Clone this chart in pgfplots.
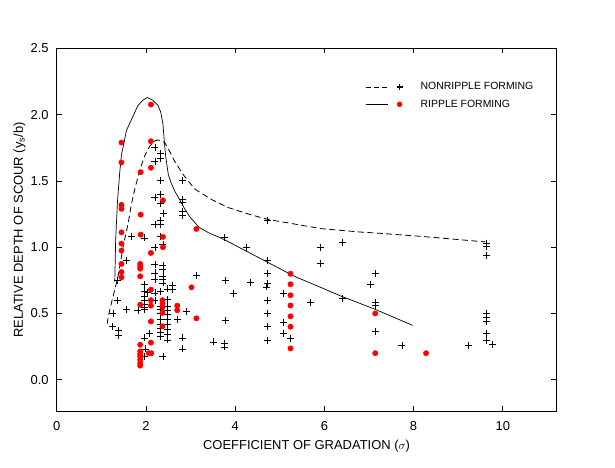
\documentclass[border=0pt]{standalone}
\usepackage{fontspec}
\setmainfont{Liberation Sans}
\usepackage{pgfplots}
\usepackage{pgfplotstable}
\pgfplotsset{compat=1.18}

% nonripple forming (black +)
\pgfplotstableread{
x y
9.63 1.03
9.63 1.007
9.63 0.94
9.63 0.50
9.63 0.47
9.63 0.44
9.63 0.35
9.63 0.295
9.76 0.264
9.22 0.257
7.74 0.257
7.14 0.80
7.03 0.72
7.14 0.584
7.14 0.56
7.14 0.362
6.41 1.037
6.41 0.61
5.91 1.00
5.91 0.878
5.69 0.58
5.08 0.652
5.08 0.433
5.08 0.352
5.24 0.31
4.73 1.20
4.73 0.90
4.73 0.80
4.73 0.725
4.71 0.70
4.73 0.60
4.73 0.50
4.73 0.40
4.73 0.297
4.35 0.733
4.25 1.00
3.75 1.075
3.78 0.748
3.97 0.652
3.78 0.448
3.52 0.285
3.75 0.277
3.75 0.247
3.13 0.785
2.20 1.75
2.33 1.705
2.33 1.67
2.20 1.65
2.33 1.505
2.81 1.505
2.20 1.377
2.33 1.40
2.81 1.36
2.81 1.335
2.33 1.33
2.81 1.27
2.81 1.24
2.40 1.254
2.20 1.173
2.33 1.20
2.33 1.173
1.67 1.083
1.97 1.07
2.33 1.078
2.20 1.00
2.38 1.02
1.56 0.90
2.20 0.868
2.38 0.861
2.38 0.83
2.20 0.806
2.38 0.78
2.38 0.755
2.38 0.73
2.20 0.755
1.35 0.748
1.97 0.717
1.97 0.667
1.97 0.629
1.97 0.597
2.04 0.66
2.20 0.655
2.33 0.667
2.49 0.685
2.60 0.71
2.60 0.68
1.97 0.566
1.97 0.549
1.97 0.529
1.82 0.524
1.56 0.529
1.26 0.498
1.36 0.60
2.20 0.60
2.33 0.55
2.33 0.53
2.33 0.50
2.49 0.604
2.49 0.554
2.49 0.524
2.49 0.49
2.49 0.453
2.49 0.415
2.49 0.378
2.49 0.34
2.49 0.30
2.70 0.458
2.90 0.516
2.33 0.453
2.33 0.42
2.33 0.39
2.33 0.357
2.33 0.327
1.25 0.40
1.39 0.37
1.39 0.332
2.08 0.347
1.97 0.315
2.81 0.315
1.99 0.232
2.82 0.232
1.97 0.176
2.38 0.176
}\nonripple

% ripple forming (red dots)
\pgfplotstableread{
x y
7.14 0.50
7.14 0.20
8.28 0.20
3.13 1.138
3.13 0.463
5.24 0.80
5.24 0.72
5.24 0.637
5.24 0.56
5.24 0.478
5.24 0.40
5.24 0.236
2.11 2.077
1.45 1.79
2.11 1.80
1.45 1.64
2.11 1.60
1.88 1.566
2.38 1.354
1.45 1.32
1.45 1.29
1.88 1.246
1.45 1.112
1.88 1.095
2.38 1.078
1.45 1.027
2.38 1.00
2.11 0.957
1.45 0.975
1.45 0.874
1.87 0.874
1.87 0.856
1.87 0.838
1.45 0.813
1.45 0.773
1.87 0.78
3.02 0.697
2.11 0.68
2.37 0.60
2.37 0.574
2.37 0.549
2.11 0.60
1.87 0.566
2.11 0.559
2.70 0.559
2.70 0.524
2.37 0.504
2.11 0.44
2.37 0.403
2.11 0.28
1.87 0.264
1.87 0.214
1.87 0.194
1.87 0.176
2.06 0.20
2.12 0.20
1.87 0.151
1.87 0.126
1.87 0.106
}\ripple

% envelope curves
\pgfplotstableread{
x y
1.13 0.42
1.15 0.47
1.19 0.53
1.24 0.60
1.30 0.68
1.36 0.76
1.41 0.85
1.45 0.93
1.50 1.03
1.55 1.10
1.60 1.18
1.67 1.32
1.75 1.44
1.86 1.58
1.97 1.69
2.08 1.76
2.18 1.80
2.27 1.81
2.42 1.79
2.52 1.73
2.64 1.65
2.83 1.55
3.09 1.44
3.47 1.36
3.84 1.30
4.30 1.25
4.73 1.21
5.93 1.14
6.79 1.115
7.12 1.108
8.13 1.083
9.03 1.057
9.61 1.04
}\nonrippleenv

\pgfplotstableread{
x y
1.30 0.74
1.32 1.06
1.34 1.20
1.36 1.34
1.41 1.56
1.45 1.70
1.49 1.76
1.56 1.88
1.60 1.91
1.71 1.99
1.82 2.07
1.93 2.11
2.03 2.13
2.15 2.11
2.27 2.07
2.33 2.02
2.38 1.93
2.41 1.80
2.44 1.69
2.50 1.55
2.57 1.48
2.65 1.42
2.72 1.38
2.85 1.30
2.98 1.23
3.19 1.15
3.40 1.11
3.76 1.057
4.25 0.97
4.73 0.886
5.33 0.78
5.93 0.695
6.38 0.63
7.12 0.534
7.98 0.41
}\rippleenv

\begin{document}
\begin{tikzpicture}
\useasboundingbox (0,0) rectangle (615bp,468bp);
\begin{axis}[
  at={(56.8bp,56.5bp)}, anchor=south west,
  width=499.5bp, height=363bp, scale only axis,
  xmin=0, xmax=11.2, ymin=-0.24, ymax=2.5,
  xtick={0,2,...,10}, ytick={0,0.5,...,2.5},
  tick align=inside, major tick length=5bp,
  axis line style={line width=0.9bp}, tick style={line width=0.9bp, black},
  font=\fontsize{13}{15}\selectfont,
  /pgf/number format/assume math mode=true,
  yticklabel style={/pgf/number format/.cd, fixed, fixed zerofill, precision=1, /tikz/.cd, anchor=east, inner sep=0pt, xshift=-8bp},
  xticklabel style={anchor=north, inner sep=0pt, yshift=-10bp},
  xlabel={COEFFICIENT OF GRADATION ($\sigma$)},
  ylabel={RELATIVE DEPTH OF SCOUR (y\textsubscript{s}/b)},
  xlabel style={at={(axis description cs:0.5,0)}, anchor=base, yshift=-37.5bp, inner sep=0pt},
  ylabel style={at={(axis description cs:0,0.5)}, anchor=base, yshift=34bp, inner sep=0pt},
  legend style={draw=none, fill=none, at={(0.617,0.912)}, anchor=north west,
    font=\fontsize{10.5}{12}\selectfont, row sep=4.5bp, inner sep=0pt},
  legend cell align=left,
]
\addplot[black, line width=0.8bp, dash pattern=on 6bp off 3.5bp, forget plot] table {\nonrippleenv};
\addplot[black, line width=0.7bp, forget plot] table {\rippleenv};
\addplot[only marks, mark=+, mark size=3.5bp, black, line width=0.8bp,
  legend image code/.code={
    \path[draw=none, fill=none] (0bp,0bp) -- (53bp,0bp);
    \draw[black, line width=0.8bp, dash pattern=on 5bp off 3bp] (0bp,0bp) -- (22bp,0bp);
    \draw[black, line width=1.2bp] plot[mark=+, mark size=3bp] coordinates {(34bp,0bp)};
  }] table {\nonripple};
\addlegendentry{NONRIPPLE FORMING}
\addplot[only marks, mark=*, mark size=2.7bp, red, fill=red, draw=red,
  legend image code/.code={
    \path[draw=none, fill=none] (0bp,0bp) -- (53bp,0bp);
    \draw[black, line width=0.8bp] (0bp,0bp) -- (22bp,0bp);
    \draw[red] plot[mark=*, mark size=2.5bp, mark options={fill=red}] coordinates {(34bp,0bp)};
  }] table {\ripple};
\addlegendentry{RIPPLE FORMING}
\draw[line width=1.8bp] (rel axis cs:0,0) -- (rel axis cs:1,0);
\end{axis}
\end{tikzpicture}
\end{document}
